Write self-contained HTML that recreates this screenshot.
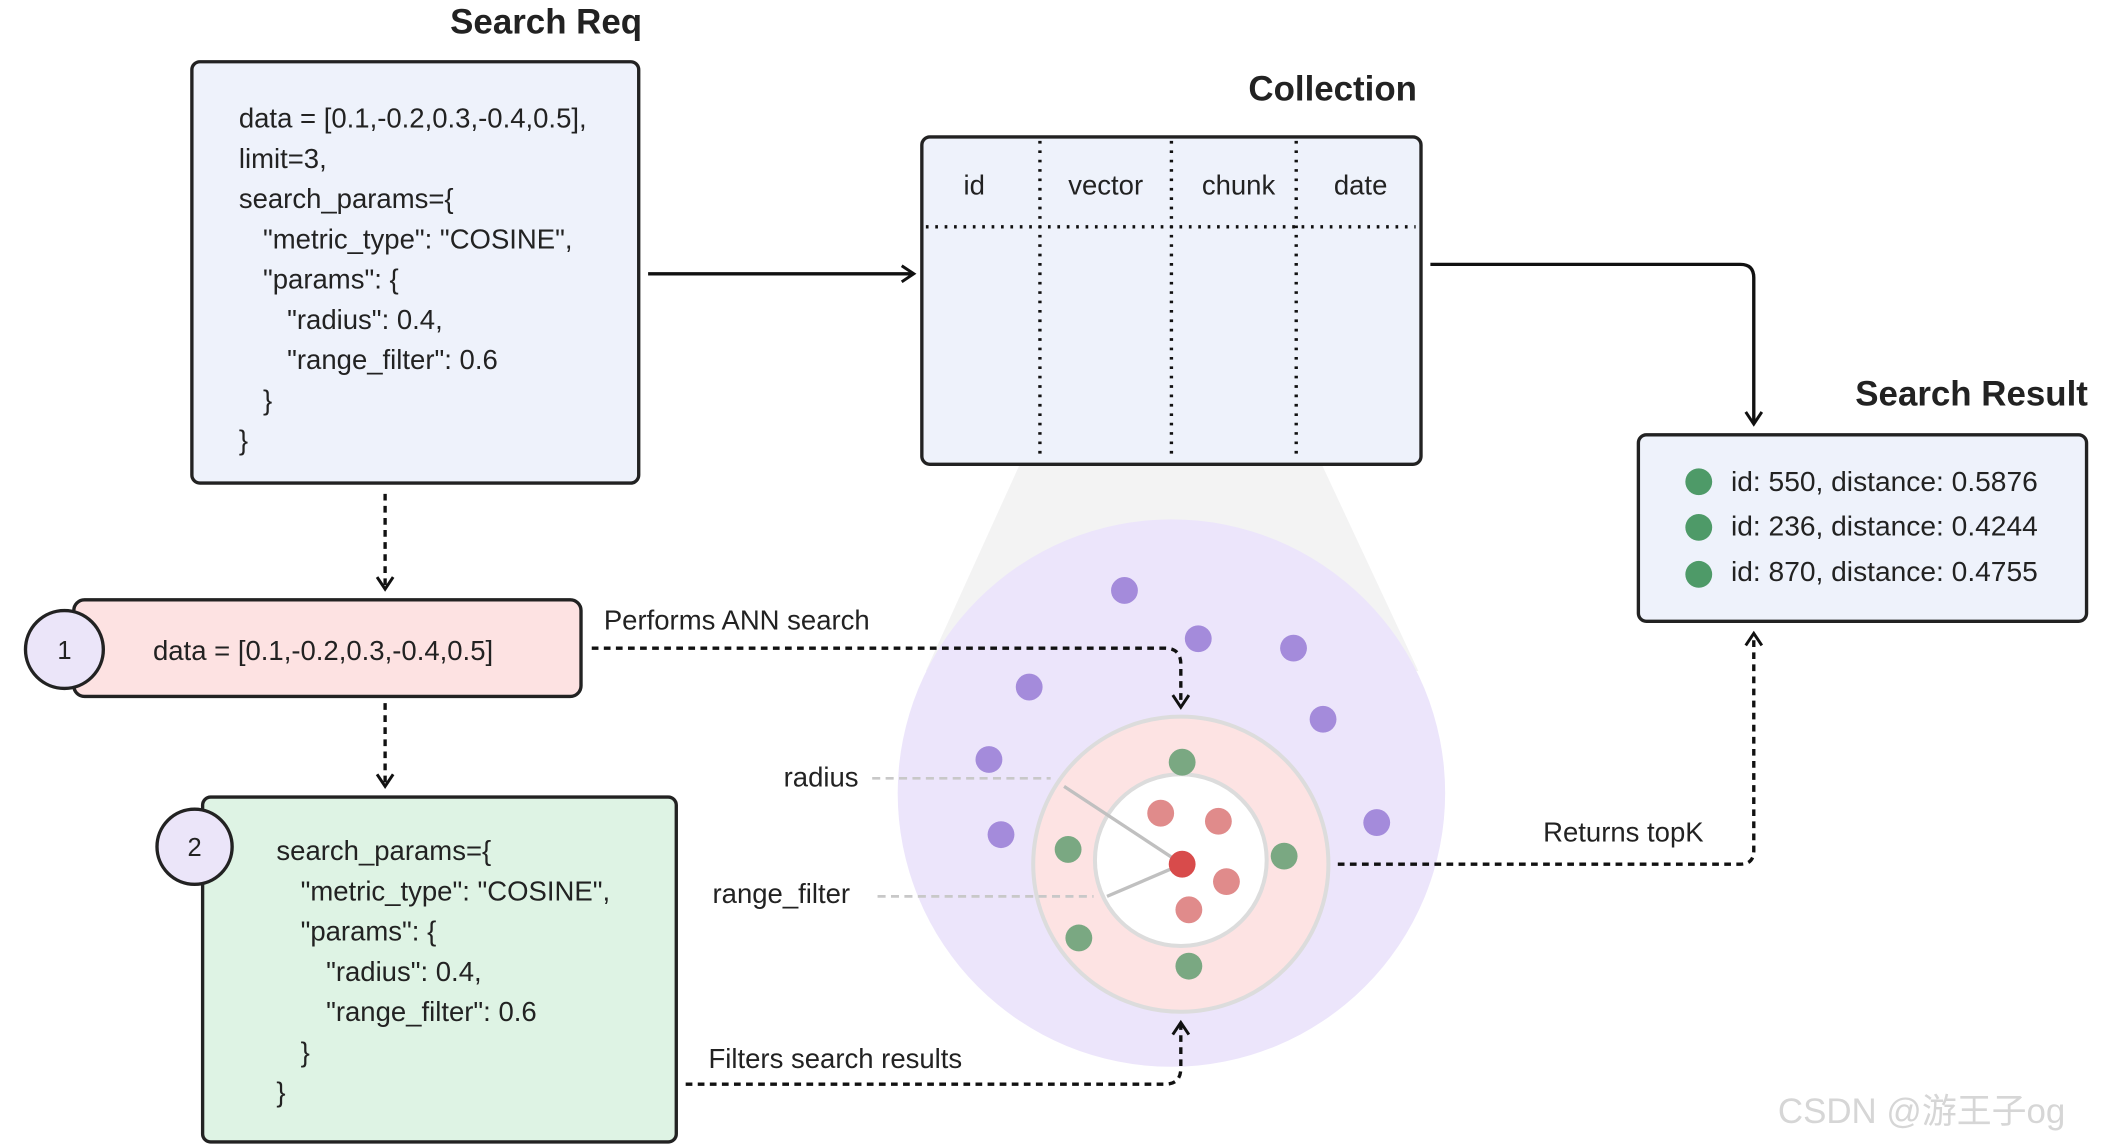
<!DOCTYPE html>
<html><head><meta charset="utf-8"><style>
html,body{margin:0;padding:0;background:#fff;}
svg{display:block;}
text{font-family:"Liberation Sans","Noto Sans CJK SC",sans-serif;fill:#222;}
</style></head><body>
<svg width="2104" height="1146" viewBox="0 0 1568 854" xmlns="http://www.w3.org/2000/svg">
<defs>
<marker id="ah" markerWidth="14" markerHeight="14" refX="11" refY="7" orient="auto" markerUnits="userSpaceOnUse">
<path d="M2,1 L11,7 L2,13" fill="none" stroke="#111" stroke-width="2.2"/>
</marker>
</defs>
<polygon points="760,346 985,346 1057,500 690,500" fill="#f3f3f3"/>
<circle cx="873" cy="591" r="204" fill="#ece5fb"/>
<circle cx="880" cy="644" r="110" fill="#fde3e3" stroke="#dcdcdc" stroke-width="3"/>
<circle cx="880" cy="641" r="64" fill="#fff" stroke="#dcdcdc" stroke-width="3"/>
<g fill="#a48bdb">
<circle cx="838" cy="440" r="10"/><circle cx="893" cy="476" r="10"/><circle cx="964" cy="483" r="10"/>
<circle cx="767" cy="512" r="10"/><circle cx="986" cy="536" r="10"/><circle cx="737" cy="566" r="10"/>
<circle cx="746" cy="622" r="10"/><circle cx="1026" cy="613" r="10"/>
</g>
<g fill="#7aa882">
<circle cx="881" cy="568" r="10"/><circle cx="796" cy="633" r="10"/><circle cx="957" cy="638" r="10"/>
<circle cx="804" cy="699" r="10"/><circle cx="886" cy="720" r="10"/>
</g>
<g fill="#e08b8b">
<circle cx="865" cy="606" r="10"/><circle cx="908" cy="612" r="10"/><circle cx="914" cy="657" r="10"/><circle cx="886" cy="678" r="10"/>
</g>
<line x1="881" y1="644" x2="793" y2="586" stroke="#c0c0c0" stroke-width="2.5"/>
<line x1="881" y1="644" x2="825" y2="668" stroke="#c0c0c0" stroke-width="2.5"/>
<circle cx="881" cy="644" r="10" fill="#d84b4b"/>
<line x1="650" y1="580" x2="783" y2="580" stroke="#c8c8c8" stroke-width="2" stroke-dasharray="6,4"/>
<line x1="654" y1="668" x2="815" y2="668" stroke="#c8c8c8" stroke-width="2" stroke-dasharray="6,4"/>
<text x="584" y="586" font-size="20.5">radius</text>
<text x="531" y="673" font-size="20.5">range_filter</text>

<text x="407" y="25" font-size="26" font-weight="bold" text-anchor="middle">Search Req</text>
<rect x="143" y="46" width="333" height="314" rx="6" fill="#eef2fb" stroke="#222" stroke-width="2.5"/>
<g font-size="20.5">
<text x="178" y="95">data = [0.1,-0.2,0.3,-0.4,0.5],</text>
<text x="178" y="125">limit=3,</text>
<text x="178" y="155">search_params={</text>
<text x="196" y="185">"metric_type": "COSINE",</text>
<text x="196" y="215">"params": {</text>
<text x="214" y="245">"radius": 0.4,</text>
<text x="214" y="275">"range_filter": 0.6</text>
<text x="196" y="305">}</text>
<text x="178" y="335">}</text>
</g>
<line x1="483" y1="204" x2="681" y2="204" stroke="#111" stroke-width="2.5" marker-end="url(#ah)"/>

<text x="1056" y="75" font-size="26" font-weight="bold" text-anchor="end">Collection</text>
<rect x="687" y="102" width="372" height="244" rx="6" fill="#eef2fb" stroke="#222" stroke-width="2.5"/>
<g font-size="20.5" text-anchor="middle">
<text x="726" y="145">id</text><text x="824" y="145">vector</text><text x="923" y="145">chunk</text><text x="1014" y="145">date</text>
</g>
<g stroke="#111" stroke-width="2.5" stroke-dasharray="2,5">
<line x1="690" y1="169" x2="1055" y2="169"/>
<line x1="775" y1="105" x2="775" y2="343"/>
<line x1="873" y1="105" x2="873" y2="343"/>
<line x1="966" y1="105" x2="966" y2="343"/>
</g>
<path d="M1066,197 H1297 Q1307,197 1307,207 V316" fill="none" stroke="#111" stroke-width="2.5" marker-end="url(#ah)"/>

<text x="1556" y="302" font-size="26" font-weight="bold" text-anchor="end">Search Result</text>
<rect x="1221" y="324" width="334" height="139" rx="6" fill="#eef2fb" stroke="#222" stroke-width="2.5"/>
<g fill="#4e9a68"><circle cx="1266" cy="359" r="10"/><circle cx="1266" cy="393" r="10"/><circle cx="1266" cy="428" r="10"/></g>
<g font-size="21">
<text x="1290" y="366">id: 550, distance: 0.5876</text>
<text x="1290" y="399">id: 236, distance: 0.4244</text>
<text x="1290" y="433">id: 870, distance: 0.4755</text>
</g>
<path d="M997,644 H1297 Q1307,644 1307,634 V472" fill="none" stroke="#111" stroke-width="2.5" stroke-dasharray="5,4" marker-end="url(#ah)"/>
<text x="1150" y="627" font-size="20.5">Returns topK</text>

<line x1="287" y1="368" x2="287" y2="439" stroke="#111" stroke-width="2.5" stroke-dasharray="5,4" marker-end="url(#ah)"/>
<rect x="55" y="447" width="378" height="72" rx="8" fill="#fde2e2" stroke="#222" stroke-width="2.5"/>
<circle cx="48" cy="484" r="29" fill="#ebe5f9" stroke="#222" stroke-width="2.5"/>
<text x="48" y="491" font-size="19" text-anchor="middle">1</text>
<text x="114" y="492" font-size="20.5">data = [0.1,-0.2,0.3,-0.4,0.5]</text>
<text x="450" y="469" font-size="20.5">Performs ANN search</text>
<path d="M441,483 H868 Q880,483 880,495 V527" fill="none" stroke="#111" stroke-width="2.5" stroke-dasharray="5,4" marker-end="url(#ah)"/>
<line x1="287" y1="524" x2="287" y2="586" stroke="#111" stroke-width="2.5" stroke-dasharray="5,4" marker-end="url(#ah)"/>

<rect x="151" y="594" width="353" height="257" rx="6" fill="#def3e4" stroke="#222" stroke-width="2.5"/>
<circle cx="145" cy="631" r="28" fill="#ebe5f9" stroke="#222" stroke-width="2.5"/>
<text x="145" y="638" font-size="19" text-anchor="middle">2</text>
<g font-size="20.5">
<text x="206" y="641">search_params={</text>
<text x="224" y="671">"metric_type": "COSINE",</text>
<text x="224" y="701">"params": {</text>
<text x="243" y="731">"radius": 0.4,</text>
<text x="243" y="761">"range_filter": 0.6</text>
<text x="224" y="791">}</text>
<text x="206" y="821">}</text>
</g>
<text x="528" y="796" font-size="20.5">Filters search results</text>
<path d="M511,808 H868 Q880,808 880,796 V762" fill="none" stroke="#111" stroke-width="2.5" stroke-dasharray="5,4" marker-end="url(#ah)"/>

<text x="1325" y="837" font-size="26" style="fill:#d6d6d6">CSDN @游王子og</text>
</svg>
</body></html>
